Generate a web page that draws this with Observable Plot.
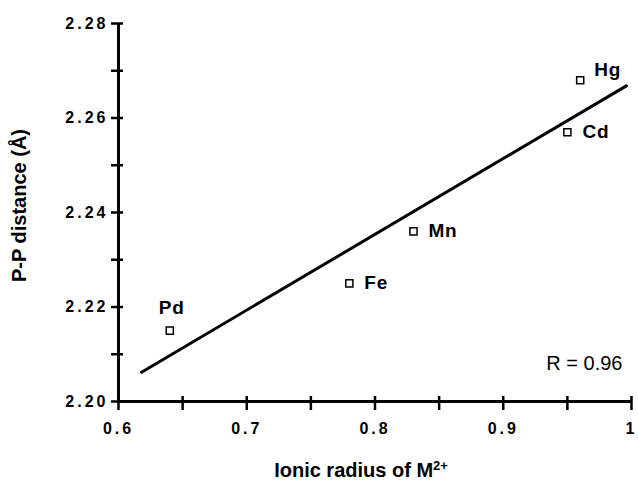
<!DOCTYPE html>
<html>
<head>
<meta charset="utf-8">
<script src="https://cdn.jsdelivr.net/npm/d3@7"></script>
<script src="https://cdn.jsdelivr.net/npm/@observablehq/plot@0.6"></script>
<style>
  html, body { margin: 0; padding: 0; background: #fff; }
  svg { font-family: "Liberation Sans", Arial, sans-serif; }
  .ticklab text { letter-spacing: 3px; }
  .ptlab text { letter-spacing: 0.8px; }
</style>
</head>
<body>
<div id="chart"></div>
<script>
// Data
const metals = ["Pd", "Fe", "Mn", "Cd", "Hg"];
const radius = [0.64, 0.78, 0.83, 0.95, 0.96];
const ppDist = [2.215, 2.225, 2.236, 2.257, 2.268];
const fitX = [0.618, 0.996];
const fitY = [2.2062, 2.2668];
const xTicksMajor = [0.6, 0.7, 0.8, 0.9, 1.0];
const xTicksAll = [0.6, 0.65, 0.7, 0.75, 0.8, 0.85, 0.9, 0.95, 1.0];
const yTicksMajor = [2.20, 2.22, 2.24, 2.26, 2.28];
const yTicksAll = [2.20, 2.21, 2.22, 2.23, 2.24, 2.25, 2.26, 2.27, 2.28];
const xDomain = [0.6, 1.0];
const yDomain = [2.20, 2.28];
const xTitle = "Ionic radius of M2+";
const yTitle = "P-P distance (Å)";
const rText = "R = 0.96";

const points = metals.map((m, i) => ({metal: m, x: radius[i], y: ppDist[i]}));
const fit = fitX.map((x, i) => ({x, y: fitY[i]}));
const rightLabels = points.filter(d => ["Fe", "Mn", "Cd"].includes(d.metal));
const aboveLabels = points.filter(d => d.metal === "Pd");
const upperRightLabels = points.filter(d => d.metal === "Hg");

const chart = Plot.plot({
  width: 638,
  height: 483,
  marginLeft: 118,
  marginRight: 7,
  marginTop: 23,
  marginBottom: 82,
  x: {domain: xDomain, axis: null},
  y: {domain: yDomain, axis: null},
  style: {background: "#fff", color: "#000"},
  marks: [
    Plot.ruleX([xDomain[0]], {stroke: "#000", strokeWidth: 3}),
    Plot.ruleY([yDomain[0]], {stroke: "#000", strokeWidth: 3}),
    Plot.axisY(yTicksAll, {tickSize: 12, dx: 5, tickFormat: () => "", strokeWidth: 2.5, label: null}),
    Plot.axisY(yTicksMajor, {tickSize: 0, tickPadding: 10, tickFormat: d => d.toFixed(2),
      fontSize: 16, fontWeight: "bold", className: "ticklab", label: null}),
    Plot.axisX(xTicksAll, {tickSize: 14, dy: -5, tickFormat: () => "", strokeWidth: 2.5, label: null}),
    Plot.axisX(xTicksMajor, {tickSize: 0, tickPadding: 21, tickFormat: d => d === 1 ? "1" : d.toFixed(1),
      fontSize: 16, fontWeight: "bold", className: "ticklab", label: null}),
    Plot.line(fit, {x: "x", y: "y", stroke: "#000", strokeWidth: 3}),
    Plot.dot(points, {x: "x", y: "y", symbol: "square", r: 4, fill: "#fff", stroke: "#000", strokeWidth: 1.5}),
    Plot.text(rightLabels, {x: "x", y: "y", text: "metal", dx: 15, textAnchor: "start",
      fontSize: 19, fontWeight: "bold", className: "ptlab"}),
    Plot.text(aboveLabels, {x: "x", y: "y", text: "metal", dx: 2, dy: -23,
      fontSize: 19, fontWeight: "bold", className: "ptlab"}),
    Plot.text(upperRightLabels, {x: "x", y: "y", text: "metal", dx: 14, dy: -10, textAnchor: "start",
      fontSize: 19, fontWeight: "bold", className: "ptlab"}),
    Plot.text([rText], {frameAnchor: "bottom-right", dx: -9, dy: -32, textAnchor: "end",
      fontSize: 20, className: "rlab"}),
    Plot.text([xTitle], {frameAnchor: "bottom", dx: -14, dy: 75, fontSize: 20, fontWeight: "bold",
      className: "xtitle"}),
    Plot.text([yTitle], {frameAnchor: "left", textAnchor: "middle", dx: -99, dy: -7, rotate: -90,
      fontSize: 20, fontWeight: "bold"})
  ]
});

// Superscript in x title
const xt = chart.querySelector(".xtitle text");
if (xt && xt.textContent.endsWith("2+")) {
  const base = xt.textContent.slice(0, -2);
  xt.textContent = base;
  const sup = document.createElementNS("http://www.w3.org/2000/svg", "tspan");
  sup.setAttribute("baseline-shift", "super");
  sup.setAttribute("font-size", "13");
  sup.textContent = "2+";
  xt.appendChild(sup);
}

document.getElementById("chart").appendChild(chart);
</script>
</body>
</html>
